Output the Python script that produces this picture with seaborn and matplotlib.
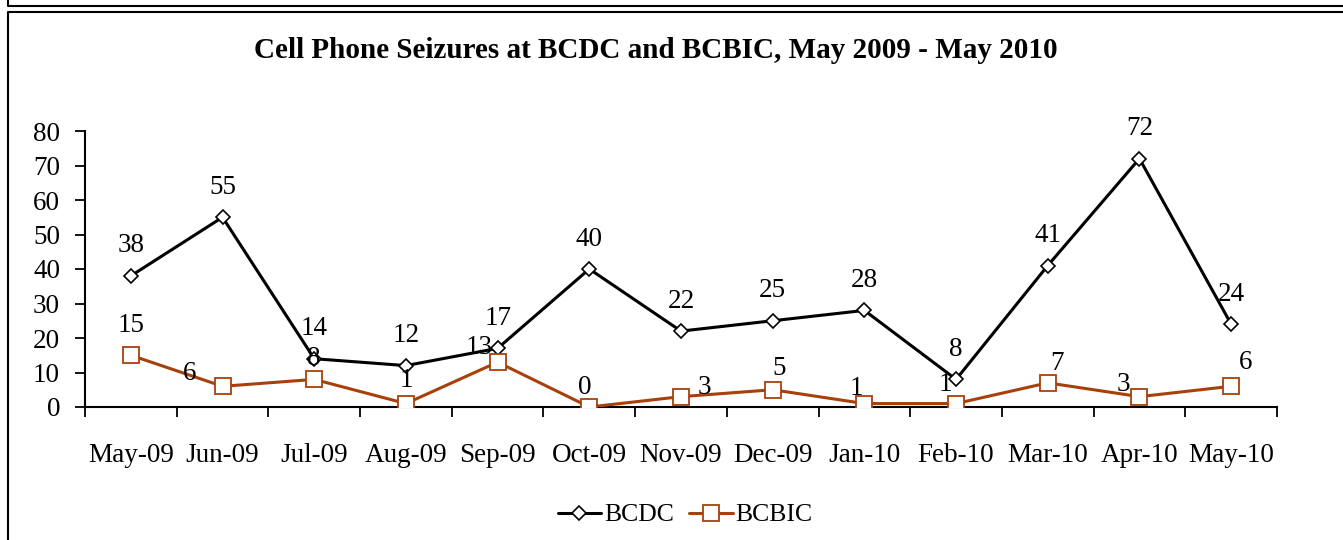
import numpy as np
import pandas as pd
import matplotlib.pyplot as plt
import seaborn as sns
from matplotlib.lines import Line2D

# -------------------------------
# Data
# -------------------------------
months = ['May-09', 'Jun-09', 'Jul-09', 'Aug-09', 'Sep-09', 'Oct-09', 'Nov-09',
          'Dec-09', 'Jan-10', 'Feb-10', 'Mar-10', 'Apr-10', 'May-10']
bcdc = [38, 55, 14, 12, 17, 40, 22, 25, 28, 8, 41, 72, 24]
bcbic = [15, 6, 8, 1, 13, 0, 3, 5, 1, 1, 7, 3, 6]

# label offsets (pixels) for BCBIC, placed by hand in the original
bcbic_off = [(0, 30), (-33, 13), (0, 21), (0, 23), (-19, 15), (-5, 20), (23, 9),
             (6, 21), (-8, 15), (-11, 19), (9, 19), (-16, 12), (14, 24)]

df = pd.DataFrame({'idx': np.arange(len(months)), 'BCDC': bcdc, 'BCBIC': bcbic})

sns.set_theme(style="white")
plt.rcParams['font.family'] = ['Liberation Serif', 'DejaVu Serif']
plt.rcParams['text.color'] = 'black'
plt.rcParams['xtick.color'] = 'black'
plt.rcParams['ytick.color'] = 'black'

BROWN = '#A8400C'
FS = 19.5

fig = plt.figure(figsize=(13.43, 5.4), dpi=100)
ax = fig.add_axes([85 / 1343, 133 / 540, 1192 / 1343, 276 / 540])

sns.lineplot(data=df, x='idx', y='BCDC', ax=ax, color='black', linewidth=2.2,
             marker='D', markersize=7.5, markerfacecolor='white',
             markeredgecolor='black', markeredgewidth=1.2, zorder=3)
sns.lineplot(data=df, x='idx', y='BCBIC', ax=ax, color=BROWN, linewidth=2.2,
             marker='s', markersize=11, markerfacecolor='white',
             markeredgecolor=BROWN, markeredgewidth=1.3, zorder=3)

for i, v in enumerate(bcdc):
    ax.annotate(str(v), (i, v), xytext=(0, 30), textcoords='offset pixels',
                ha='center', va='center', fontsize=FS, color='black', zorder=5)
for i, v in enumerate(bcbic):
    dx, dy = bcbic_off[i]
    ax.annotate(str(v), (i, v), xytext=(dx, dy), textcoords='offset pixels',
                ha='center', va='center', fontsize=FS, color='black', zorder=5)

ax.set_xlim(-0.5, len(months) - 0.5)
ax.set_ylim(0, 80)
ax.set_yticks(range(0, 81, 10))
ax.set_xticks(range(len(months)))
ax.set_xticklabels(months)
ax.set_xticks(np.arange(-0.5, len(months), 1), minor=True)
ax.tick_params(axis='x', which='major', length=0, pad=26, labelsize=FS)
ax.tick_params(axis='x', which='minor', length=7, width=1.3, direction='out',
               bottom=True)
ax.tick_params(axis='y', length=7, width=1.3, direction='out', left=True,
               pad=11, labelsize=FS)
ax.set_xlabel('')
ax.set_ylabel('')
for s in ['top', 'right']:
    ax.spines[s].set_visible(False)
for s in ['left', 'bottom']:
    ax.spines[s].set_color('black')
    ax.spines[s].set_linewidth(1.5)

fig.text(656 / 1343, 1 - 51 / 540,
         'Cell Phone Seizures at BCDC and BCBIC, May 2009 - May 2010',
         ha='center', va='center', fontsize=21, fontweight='bold')

handles = [
    Line2D([], [], color='black', linewidth=2.2, marker='D', markersize=7.5,
           markerfacecolor='white', markeredgecolor='black', markeredgewidth=1.2),
    Line2D([], [], color=BROWN, linewidth=2.2, marker='s', markersize=11,
           markerfacecolor='white', markeredgecolor=BROWN, markeredgewidth=1.3),
]
fig.legend(handles, ['BCDC', 'BCBIC'], loc='center', ncol=2,
           bbox_to_anchor=(685 / 1343, 25 / 540), frameon=False, fontsize=18.5,
           handlelength=1.7, handletextpad=0.1, columnspacing=0.6)


# chart frames (the bottom of the previous chart box is visible at the top)
def px_line(xs, ys):
    fig.add_artist(Line2D([x / 1343 for x in xs], [1 - y / 540 for y in ys],
                          transform=fig.transFigure, color='black', linewidth=1.5))


px_line([8, 8, 1343], [0, 6, 6])
px_line([8, 8, 1343], [540, 12, 12])

fig.savefig('out.png', dpi=100)
